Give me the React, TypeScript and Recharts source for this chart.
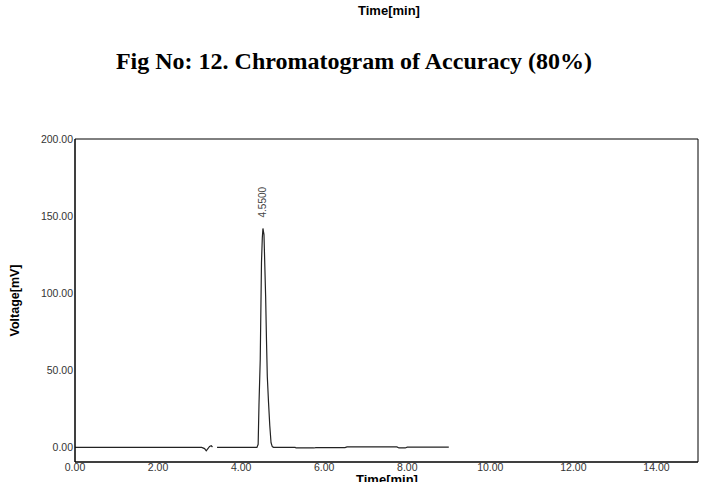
import React from 'react';
import { LineChart, Line, XAxis, YAxis, ReferenceArea } from 'recharts';

// retention time (min) and detector response (mV)
const times = [
  0, 3.05, 3.12, 3.16, 3.2, 3.24, 3.28, 3.31, 3.36, 3.42, 4.38, 4.41, 4.43, 4.46, 4.49, 4.51,
  4.525, 4.55, 4.59, 4.61, 4.63, 4.66, 4.69, 4.72, 4.75, 4.78, 5.3, 5.32, 5.75, 5.8, 6.5, 6.55,
  7.75, 7.8, 7.95, 8.0, 9.0,
];
const voltage = [
  0, 0, -0.8, -2.2, -0.8, 0.6, 1.0, 0.2, null, 0, 0, 2, 28, 57, 120, 136,
  142, 138, 98, 70, 46, 29, 14, 3, 0.5, 0, 0, -0.4, -0.4, -0.2, -0.2, 0.3,
  0.3, -0.4, -0.4, 0.1, 0.1,
];
const xTicks = [0, 2, 4, 6, 8, 10, 12, 14];
const yTicks = [0, 50, 100, 150, 200];
const peakTime = 4.525;
const peakLabel = '4.5500';

const data = times.map((t, i) => ({ t, v: voltage[i] }));

const sans = 'Liberation Sans, Arial, sans-serif';
const tickStyle = { fill: '#333', fontSize: 10.5, fontFamily: sans };

export default function App() {
  return (
    <div style={{ position: 'absolute', left: 0, top: 0, width: 713, height: 482, background: '#fff', overflow: 'hidden' }}>
      <div style={{ position: 'absolute', top: 3, left: 325, width: 128, textAlign: 'center', fontFamily: sans, fontWeight: 'bold', fontSize: 13 }}>
        Time[min]
      </div>
      <div style={{ position: 'absolute', top: 48, left: 0, width: 708, textAlign: 'center', fontFamily: 'Liberation Serif, Times New Roman, serif', fontWeight: 'bold', fontSize: 24 }}>
        Fig No: 12. Chromatogram of Accuracy (80%)
      </div>
      <LineChart width={713} height={482} data={data} margin={{ top: 139, right: 15, bottom: 0, left: 0 }} style={{ position: 'absolute', left: 0, top: 0 }}>
        <XAxis
          dataKey="t"
          type="number"
          domain={[0, 15]}
          ticks={xTicks}
          tickFormatter={(v: number) => v.toFixed(2)}
          tick={tickStyle}
          tickLine={false}
          tickSize={2}
          tickMargin={0}
          axisLine={{ stroke: '#000' }}
          height={20}
          interval={0}
        />
        <YAxis
          type="number"
          domain={[-9.5, 200]}
          ticks={yTicks}
          tickFormatter={(v: number) => v.toFixed(2)}
          tick={tickStyle}
          tickLine={false}
          tickSize={2}
          tickMargin={0}
          axisLine={{ stroke: '#000' }}
          width={75}
          interval={0}
          allowDataOverflow
          label={{ value: 'Voltage[mV]', angle: -90, position: 'insideLeft', offset: 15, style: { fontFamily: sans, fontWeight: 'bold', fontSize: 12.5, fill: '#000', textAnchor: 'middle' } }}
        />
        <ReferenceArea x1={0} x2={15} y1={-9.5} y2={200} fill="none" stroke="#000" strokeWidth={1} ifOverflow="extendDomain" />
        <ReferenceArea
          x1={peakTime}
          x2={peakTime}
          y1={159}
          y2={159}
          fill="none"
          stroke="none"
          label={{ value: peakLabel, angle: -90, position: 'center', style: { fontFamily: sans, fontSize: 10, fill: '#444' } }}
        />
        <Line dataKey="v" type="linear" stroke="#222" strokeWidth={1.2} dot={false} isAnimationActive={false} connectNulls={false} />
      </LineChart>
      <div style={{ position: 'absolute', top: 472, left: 345, width: 84, textAlign: 'center', fontFamily: sans, fontWeight: 'bold', fontSize: 13 }}>
        Time[min]
      </div>
    </div>
  );
}
